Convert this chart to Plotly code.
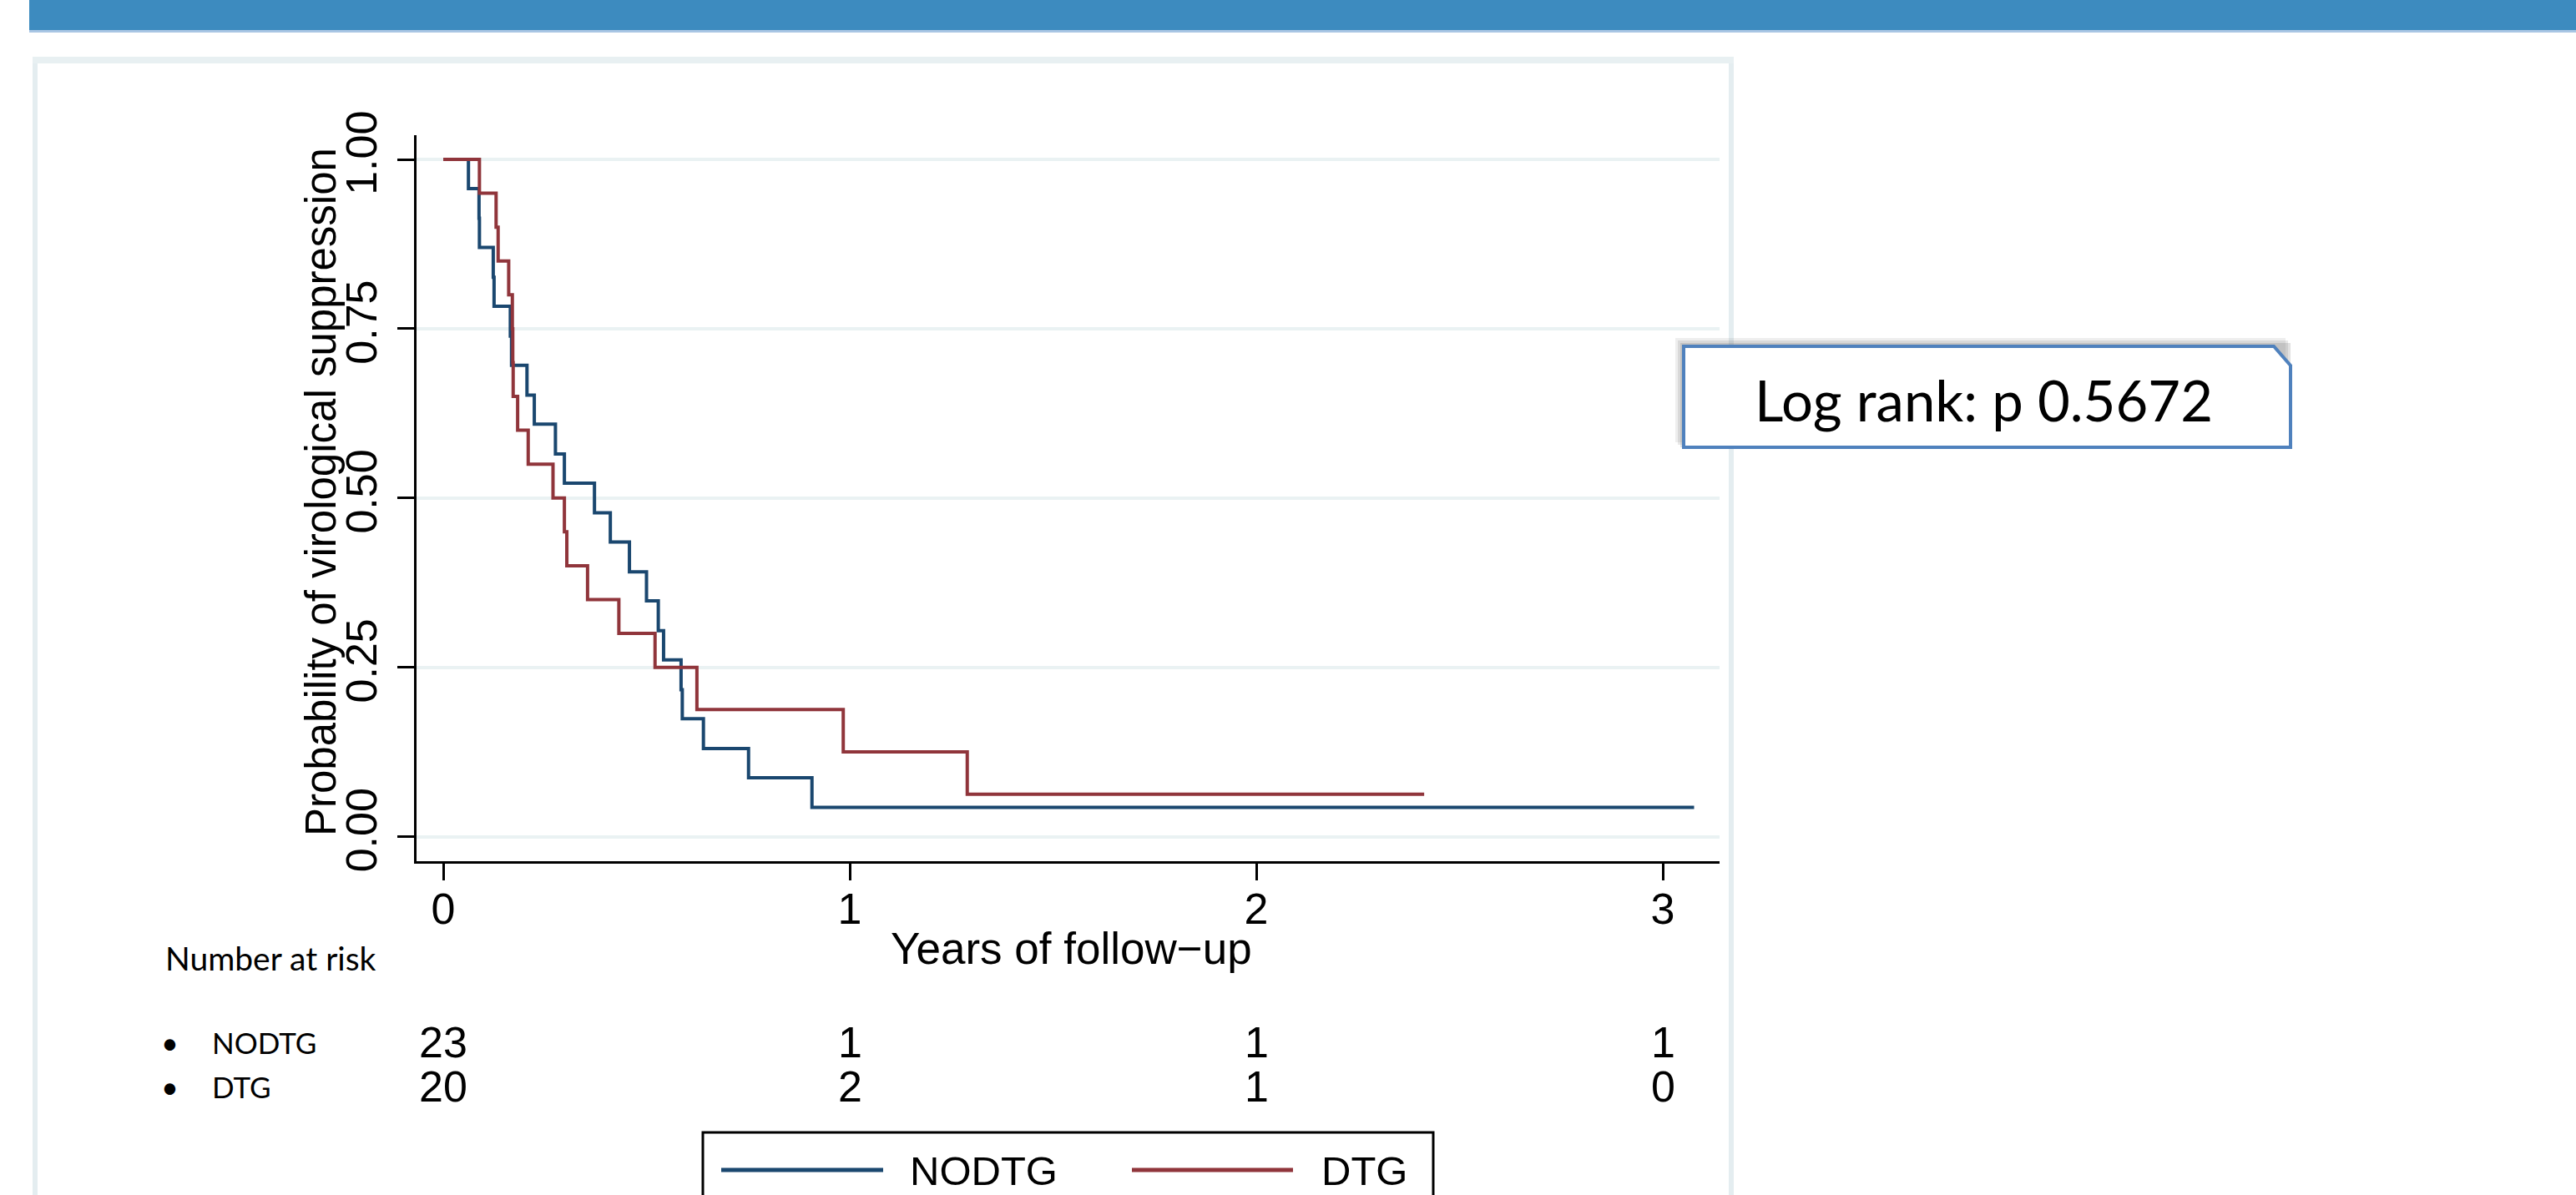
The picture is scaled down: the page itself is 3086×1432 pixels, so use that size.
import plotly.graph_objects as go

# ---------------- data ----------------
nodtg_time = [0, 0.062, 0.088, 0.089, 0.123, 0.125, 0.165, 0.168, 0.206, 0.224, 0.276,
              0.298, 0.372, 0.411, 0.458, 0.500, 0.529, 0.542, 0.585, 0.588, 0.640,
              0.751, 0.907, 3.077]
nodtg_surv = [1.0, 0.957, 0.913, 0.870, 0.826, 0.783, 0.739, 0.696, 0.652, 0.609, 0.565,
              0.522, 0.478, 0.435, 0.391, 0.348, 0.304, 0.261, 0.217, 0.174, 0.130,
              0.087, 0.043, 0.043]

dtg_time = [0, 0.089, 0.130, 0.135, 0.161, 0.170, 0.171, 0.172, 0.183, 0.209, 0.270,
            0.298, 0.304, 0.355, 0.432, 0.521, 0.624, 0.984, 1.289, 2.413]
dtg_surv = [1.0, 0.95, 0.90, 0.85, 0.80, 0.75, 0.70, 0.65, 0.60, 0.55, 0.50,
            0.45, 0.40, 0.35, 0.30, 0.25, 0.1875, 0.125, 0.0625, 0.0625]

x_ticks = [0, 1, 2, 3]
y_ticks = [0, 0.25, 0.5, 0.75, 1.0]
y_tick_text = ["0.00", "0.25", "0.50", "0.75", "1.00"]

risk_times = [0, 1, 2, 3]
nodtg_risk = [23, 1, 1, 1]
dtg_risk = [20, 2, 1, 0]

groups = ["NODTG", "DTG"]
colors = {"NODTG": "#1a476f", "DTG": "#90353b"}

x_title = "Years of follow\u2212up"
y_title = "Probability of virological suppression"
risk_title = "Number at risk"
logrank_text = "Log rank: p 0.5672"

# ---------------- geometry (pixels) ----------------
W, H = 3086, 1432
X0, X1 = 499, 2060     # plot area left / right
Y0, Y1 = 162, 1032     # plot area top / bottom


def px(x):
    return (x - X0) / (X1 - X0)


def py(y):
    return (Y1 - y) / (Y1 - Y0)


ARIAL = "Liberation Sans, Arial, sans-serif"
CALI = "Lato, Carlito, Calibri, sans-serif"

fig = go.Figure()
fig.add_trace(go.Scatter(x=nodtg_time, y=nodtg_surv, mode="lines", name="NODTG",
                         line=dict(color=colors["NODTG"], width=4, shape="hv"),
                         showlegend=False, hoverinfo="skip"))
fig.add_trace(go.Scatter(x=dtg_time, y=dtg_surv, mode="lines", name="DTG",
                         line=dict(color=colors["DTG"], width=4, shape="hv"),
                         showlegend=False, hoverinfo="skip"))

shapes = []
# top blue band
shapes.append(dict(type="rect", xref="paper", yref="paper", x0=px(35), x1=px(W + 5),
                   y0=py(0 - 5), y1=py(36), fillcolor="#3d8bbf", line=dict(width=0), layer="below"))
shapes.append(dict(type="rect", xref="paper", yref="paper", x0=px(35), x1=px(W + 5),
                   y0=py(36), y1=py(39), fillcolor="#a9c6e4", line=dict(width=0), layer="below"))
# light frame of the graph region
shapes.append(dict(type="rect", xref="paper", yref="paper", x0=px(42), x1=px(2074),
                   y0=py(72), y1=py(H + 20), fillcolor="rgba(0,0,0,0)",
                   line=dict(color="#e4edf0", width=6), layer="below"))
shapes.append(dict(type="rect", xref="paper", yref="paper", x0=px(39), x1=px(2077),
                   y0=py(68), y1=py(76), fillcolor="#e8f0f2", line=dict(width=0), layer="below"))

# log-rank box with shadow and clipped corner
bx0, bx1, by0, by1 = 2017, 2744, 415, 536
for off, op in [(10, 0.10), (7, 0.14), (4, 0.18)]:
    shapes.append(dict(type="rect", xref="paper", yref="paper",
                       x0=px(bx0 - off), x1=px(bx1 - off + 4), y0=py(by0 - off), y1=py(by1 - off + 4),
                       fillcolor="rgba(90,90,90,%.2f)" % op, line=dict(width=0)))


def P(x, y):
    return "%f,%f" % (px(x), py(y))


box_path = "M %s L %s L %s L %s L %s Z" % (P(bx0, by0), P(2724, by0), P(bx1, 438), P(bx1, by1), P(bx0, by1))
shapes.append(dict(type="path", xref="paper", yref="paper", path=box_path,
                   fillcolor="white", line=dict(color="#4f81bd", width=4)))

# legend box
shapes.append(dict(type="rect", xref="paper", yref="paper", x0=px(842), x1=px(1717),
                   y0=py(1357), y1=py(H + 20), fillcolor="white",
                   line=dict(color="black", width=3)))
legend_lines = {"NODTG": (864, 1058), "DTG": (1356, 1549)}
for g in groups:
    a, b = legend_lines[g]
    shapes.append(dict(type="line", xref="paper", yref="paper", x0=px(a), x1=px(b),
                       y0=py(1402), y1=py(1402), line=dict(color=colors[g], width=5)))

annotations = []
# axis titles
annotations.append(dict(text=x_title, xref="paper", yref="paper", x=px(1283), y=py(1136),
                        showarrow=False, xanchor="center", yanchor="middle",
                        font=dict(family=ARIAL, size=53, color="black")))
annotations.append(dict(text=y_title, xref="paper", yref="paper", x=px(384), y=py(590),
                        showarrow=False, xanchor="center", yanchor="middle", textangle=-90,
                        font=dict(family=ARIAL, size=51, color="black")))
# log-rank text
annotations.append(dict(text=logrank_text, xref="paper", yref="paper", x=px(2376), y=py(479),
                        showarrow=False, xanchor="center", yanchor="middle",
                        font=dict(family=CALI, size=67, color="black")))
# number at risk table
annotations.append(dict(text=risk_title, xref="paper", yref="paper", x=px(196), y=py(1148),
                        showarrow=False, xanchor="left", yanchor="middle",
                        font=dict(family=CALI, size=39, color="black")))
row_y = {"NODTG": 1249, "DTG": 1302}
row_vals = {"NODTG": nodtg_risk, "DTG": dtg_risk}
for g in groups:
    annotations.append(dict(text="\u2022", xref="paper", yref="paper", x=px(203), y=py(row_y[g]),
                            showarrow=False, xanchor="center", yanchor="middle",
                            font=dict(family=CALI, size=36, color="black")))
    annotations.append(dict(text=g, xref="paper", yref="paper", x=px(252), y=py(row_y[g]),
                            showarrow=False, xanchor="left", yanchor="middle",
                            font=dict(family=CALI, size=35, color="black")))
    for t, v in zip(risk_times, row_vals[g]):
        annotations.append(dict(text=str(v), xref="x", yref="paper", x=t, y=py(row_y[g]),
                                showarrow=False, xanchor="center", yanchor="middle",
                                font=dict(family=ARIAL, size=52, color="black")))
# legend text
legend_text_x = {"NODTG": 1088, "DTG": 1581}
for g in groups:
    annotations.append(dict(text=g, xref="paper", yref="paper", x=px(legend_text_x[g]), y=py(1403),
                            showarrow=False, xanchor="left", yanchor="middle",
                            font=dict(family=ARIAL, size=49, color="black")))

xr0 = (X0 - 531) / 487.0
xr1 = (X1 - 531) / 487.0
yr0 = (1002.5 - Y1) / 811.5
yr1 = (1002.5 - Y0) / 811.5

fig.update_layout(
    width=W, height=H,
    margin=dict(l=X0, r=W - X1, t=Y0, b=H - Y1, pad=0),
    paper_bgcolor="white", plot_bgcolor="white",
    showlegend=False,
    shapes=shapes, annotations=annotations,
    font=dict(family=ARIAL, color="black"),
    xaxis=dict(range=[xr0, xr1], tickvals=x_ticks, ticktext=[str(v) for v in x_ticks],
               ticks="outside", ticklen=20, tickwidth=3, tickcolor="black",
               showline=True, linecolor="black", linewidth=3, showgrid=False, zeroline=False,
               ticklabelstandoff=-10,
               tickfont=dict(family=ARIAL, size=52, color="black"), fixedrange=True),
    yaxis=dict(range=[yr0, yr1], tickvals=y_ticks, ticktext=y_tick_text, tickangle=-90,
               ticks="outside", ticklen=20, tickwidth=3, tickcolor="black",
               showline=True, linecolor="black", linewidth=3, showgrid=True,
               gridcolor="#eaf2f3", gridwidth=4, zeroline=False,
               ticklabelstandoff=4,
               tickfont=dict(family=ARIAL, size=52, color="black"), fixedrange=True),
)

fig.write_html("out.html", config={"displayModeBar": False},
               post_script="document.body.style.margin='0';document.body.style.overflow='hidden';")
